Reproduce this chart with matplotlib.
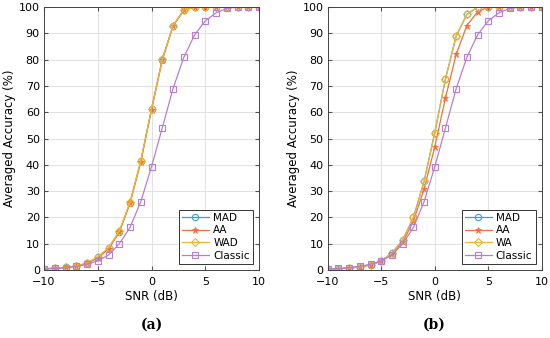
import matplotlib
matplotlib.use("Agg")
import matplotlib.pyplot as plt

snr = list(range(-10, 11))

# panel (a)
mad_a = [0.5, 0.7, 1.0, 1.5, 2.5, 4.8, 8.2, 14.6, 25.6, 41.4, 61.2, 80.0, 92.9, 98.8, 100, 100, 100, 100, 100, 100, 100]
aa_a = [0.5, 0.7, 1.0, 1.5, 2.5, 4.6, 8.0, 14.4, 25.4, 41.2, 61.0, 79.9, 92.8, 98.8, 100, 100, 100, 100, 100, 100, 100]
wad_a = [0.5, 0.7, 1.0, 1.6, 2.7, 5.0, 8.5, 14.8, 25.8, 41.6, 61.3, 80.1, 93.0, 98.9, 100, 100, 100, 100, 100, 100, 100]
classic = [0.4, 0.6, 0.9, 1.4, 2.2, 3.5, 5.7, 10.0, 16.2, 26.0, 39.3, 54.1, 69.0, 80.9, 89.4, 94.8, 97.8, 99.5, 100, 100, 100]

# panel (b)
mad_b = [0.4, 0.5, 0.8, 1.2, 2.0, 3.5, 6.5, 11.4, 20.0, 33.7, 52.3, 72.7, 89.0, 97.2, 100, 100, 100, 100, 100, 100, 100]
aa_b = [0.4, 0.5, 0.8, 1.2, 2.0, 3.4, 6.2, 10.5, 18.6, 30.7, 46.9, 65.5, 82.0, 93.0, 98.2, 100, 100, 100, 100, 100, 100]
wa_b = [0.4, 0.5, 0.8, 1.2, 2.0, 3.5, 6.5, 11.4, 20.0, 33.7, 52.3, 72.7, 89.0, 97.2, 100, 100, 100, 100, 100, 100, 100]

c_blue = "#3c9fd0"
c_red = "#f07040"
c_yel = "#f0b530"
c_pur = "#b77fcf"

fig = plt.figure(figsize=(5.5, 3.38), dpi=100)
ax1 = fig.add_axes([0.08, 0.201, 0.391, 0.778])
ax2 = fig.add_axes([0.596, 0.201, 0.389, 0.778])


def draw(ax, m, a, w, wlabel):
    ax.plot(snr, m, "-o", color=c_blue, mfc="none", ms=4.5, lw=0.9, mew=0.8, label="MAD")
    ax.plot(snr, a, "-*", color=c_red, ms=4.5, lw=0.9, mew=0.6, label="AA")
    ax.plot(snr, w, "-D", color=c_yel, mfc="none", ms=4, lw=0.9, mew=0.8, label=wlabel)
    ax.plot(snr, classic, "-s", color=c_pur, mfc="none", ms=4, lw=0.9, mew=0.8, label="Classic")
    ax.set_xlim(-10, 10)
    ax.set_ylim(0, 100)
    ax.set_xticks([-10, -5, 0, 5, 10])
    ax.set_yticks(range(0, 101, 10))
    ax.grid(True, color="#dddddd", lw=0.6)
    ax.tick_params(direction="in", top=True, right=True, labelsize=8, length=3, color="#555555")
    ax.tick_params(axis="x", pad=5)
    ax.tick_params(axis="y", pad=3)
    for s in ax.spines.values():
        s.set_color("#444444")
        s.set_linewidth(0.7)
    ax.set_xlabel("SNR (dB)", fontsize=8.5, labelpad=2)
    ax.set_ylabel("Averaged Accuracy (%)", fontsize=8.5, labelpad=2)
    leg = ax.legend(loc="lower right", fontsize=7.5, fancybox=False, framealpha=1,
                    edgecolor="#333333", handlelength=2.6, borderpad=0.3,
                    labelspacing=0.25, handletextpad=0.4, borderaxespad=0.6)
    leg.get_frame().set_linewidth(0.7)


draw(ax1, mad_a, aa_a, wad_a, "WAD")
draw(ax2, mad_b, aa_b, wa_b, "WA")

fig.text(0.276, 0.04, "(a)", ha="center", va="center", fontsize=10, fontweight="bold", family="DejaVu Serif")
fig.text(0.79, 0.04, "(b)", ha="center", va="center", fontsize=10, fontweight="bold", family="DejaVu Serif")

fig.savefig("out.png", dpi=100)
